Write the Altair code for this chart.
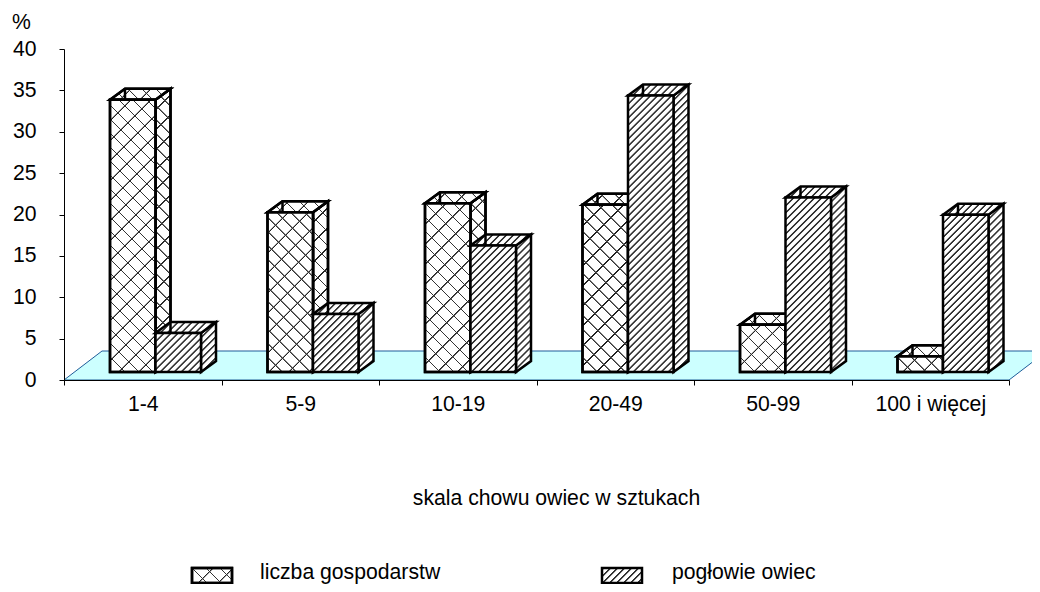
import altair as alt
import pandas as pd

categories = ["1-4", "5-9", "10-19", "20-49", "50-99", "100 i więcej"]
farms = [32.9, 19.3, 20.4, 20.2, 5.7, 1.9]
sheep = [4.7, 7.0, 15.3, 33.4, 21.1, 19.0]
series_names = ["liczba gospodarstw", "pogłowie owiec"]
y_ticks = [0, 5, 10, 15, 20, 25, 30, 35, 40]

FONT = "Liberation Sans"
FS = 21.2
SW = 2.5
W, H = 945, 331
PX_X = W / 6            # px per category
PX_Y = H / 40           # px per percent
BAR_W = 45.5
LEFT_OFF = 46.0         # from category edge to first bar, px
BASE = 8.0 / PX_Y       # bar plane lifted above the axis
DX_PX, DY_PX = 15.0, 11.0
DX, DY = DX_PX / PX_X, DY_PX / PX_Y
FLOOR_DX, FLOOR_DY = 38.0 / PX_X, 29.0 / PX_Y

xs = alt.Scale(domain=[0, 6], nice=False, zero=False)
ys = alt.Scale(domain=[0, 40], nice=False, zero=False)
X = lambda f: alt.X(f"{f}:Q", scale=xs, axis=None, title=None)
Y = lambda f: alt.Y(f"{f}:Q", scale=ys, axis=None, title=None)


def stripes(w, h, period, line, direction, fg="#000000", bg="#ffffff", soft=0.5):
    """A repeating diagonal gradient, sized so stripes are 45 degrees in pixels."""
    span = w + h
    k = span / (w * w + h * h)
    if direction == "/":
        x1, y1, x2, y2 = 0, 0, w * k, h * k
    else:
        x1, y1, x2, y2 = 0, 1, w * k, 1 - h * k
    stops = []
    pos = 0.0
    while pos < span:
        a = min(pos / span, 1)
        b = min((pos + soft) / span, 1)
        c = min((pos + line) / span, 1)
        d = min((pos + line + soft) / span, 1)
        stops += [
            {"offset": a, "color": bg},
            {"offset": b, "color": fg},
            {"offset": c, "color": fg},
            {"offset": d, "color": bg},
        ]
        pos += period
    return alt.LinearGradient(gradient="linear", x1=x1, y1=y1, x2=x2, y2=y2,
                              stops=[alt.GradientStop(**s) for s in stops])


CLEAR = "rgba(255,255,255,0)"


def paints(kind, w, h):
    """Fill layers for a face: kind 0 = brick-like lattice, kind 1 = fine hatch."""
    if kind == 0:
        return [stripes(w, h, 20, 1.7, "/", fg="#222222"),
                stripes(w, h, 14, 1.4, "\\", fg="#333333", bg=CLEAR)]
    return [stripes(w, h, 7.0, 2.2, "/", fg="#333333", soft=1.0)]


def bar_layers(kind, i, value):
    left = i + LEFT_OFF / PX_X + kind * BAR_W / PX_X
    right = left + BAR_W / PX_X
    base = BASE
    top = BASE + value
    hpx = value * PX_Y
    out = []

    front = pd.DataFrame({"x": [left], "x2": [right], "y": [top], "y2": [base]})
    side = pd.DataFrame({"x": [right, right + DX], "y": [top, top + DY],
                         "y2": [base, base + DY]})
    cap = pd.DataFrame({"y": [top, top + DY], "x": [left, left + DX],
                        "x2": [right, right + DX]})
    edge = pd.DataFrame({"x": [left + DX], "y": [top], "y2": [top + DY]})

    faces = [
        (side, DX_PX, hpx + DY_PX, "side"),
        (cap, BAR_W + DX_PX, DY_PX, "cap"),
        (front, BAR_W, hpx, "front"),
    ]
    for df, w, h, name in faces:
        for p in paints(kind, w, h):
            if name == "front":
                m = alt.Chart(df).mark_rect(fill=p, stroke="#000000", strokeWidth=SW)
                e = dict(x=X("x"), x2="x2:Q", y=Y("y"), y2="y2:Q")
            elif name == "side":
                m = alt.Chart(df).mark_area(fill=p, stroke="#000000", strokeWidth=SW, opacity=1)
                e = dict(x=X("x"), y=Y("y"), y2="y2:Q")
            else:
                m = alt.Chart(df).mark_area(fill=p, stroke="#000000", strokeWidth=SW,
                                            orient="horizontal", opacity=1)
                e = dict(y=Y("y"), x=X("x"), x2="x2:Q")
            out.append(m.encode(**e))
    out.append(alt.Chart(edge).mark_rule(color="#000000", strokeWidth=SW)
               .encode(x=X("x"), y=Y("y"), y2="y2:Q"))
    return out


labels_js = "[" + ",".join(f"'{c}'" for c in categories) + ",'']"

base_axes = alt.Chart(pd.DataFrame({"x": [0, 6], "y": [0, 40]})).mark_point(opacity=0).encode(
    x=alt.X("x:Q", scale=xs, title="skala chowu owiec w sztukach",
            axis=alt.Axis(values=list(range(7)), grid=False, domainColor="#000000",
                          tickColor="#000000", tickSize=5, tickWidth=1,
                          labelExpr=f"{labels_js}[datum.value]",
                          labelOffset=78.75, labelPadding=8, labelFont=FONT, labelFontSize=FS,
                          labelColor="#000000", labelOverlap=False, labelBound=False,
                          labelFlush=False, labelAlign="center",
                          titleFont=FONT, titleFontSize=FS, titleFontWeight="normal",
                          titleColor="#000000", titleX=492, titleY=118,
                          titleBaseline="middle", titleAlign="center", zindex=1)),
    y=alt.Y("y:Q", scale=ys, title="%",
            axis=alt.Axis(values=y_ticks, grid=False, domainColor="#000000",
                          tickColor="#000000", tickSize=5, tickWidth=1, labelPadding=23,
                          labelFont=FONT, labelFontSize=FS, labelColor="#000000",
                          titleFont=FONT, titleFontSize=FS, titleFontWeight="normal",
                          titleColor="#000000", titleAngle=0, titleX=-43, titleY=-27,
                          titleAlign="center", titleBaseline="middle", zindex=1)),
)

floor_df = pd.DataFrame({"y": [0, FLOOR_DY], "x": [0, FLOOR_DX], "x2": [6, 6 + FLOOR_DX]})
floor = alt.Chart(floor_df).mark_area(orient="horizontal", fill="#CCFFFF", stroke="#1F5C99",
                                      strokeWidth=1, opacity=1, clip=False).encode(
    y=Y("y"), x=X("x"), x2="x2:Q")

layers = [floor]
for i in range(len(categories)):
    layers += bar_layers(0, i, farms[i])
    layers += bar_layers(1, i, sheep[i])
layers.append(base_axes)

# legend
leg = []
for k, (x0, tx, name) in enumerate([(128, 196, series_names[0]), (538, 608, series_names[1])]):
    for p in paints(k, 40, 15):
        leg.append(alt.Chart(pd.DataFrame({"a": [0]})).mark_rect(fill=p, stroke="#000000", strokeWidth=SW)
                   .encode(x=alt.value(x0), x2=alt.value(x0 + 40), y=alt.value(519), y2=alt.value(534)))
    leg.append(alt.Chart(pd.DataFrame({"t": [name]})).mark_text(
        font=FONT, fontSize=FS, align="left", baseline="alphabetic", color="#000000").encode(
        x=alt.value(tx), y=alt.value(529.5), text="t:N"))
layers += leg

chart = (
    alt.layer(*layers)
    .resolve_axis(x="independent", y="independent")
    .properties(
        width=W, height=H, autosize="none", background="#ffffff",
        padding={"left": 56, "top": 41, "right": 23, "bottom": 204},
    )
    .configure_view(stroke=None)
)

chart.save("out.html", embed_options={"renderer": "svg", "actions": False})
